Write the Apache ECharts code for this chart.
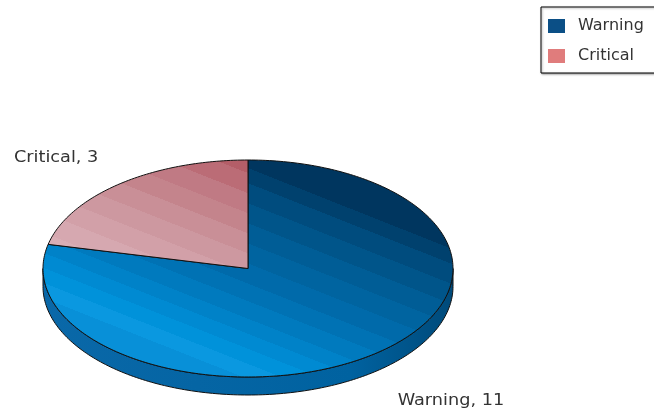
<!DOCTYPE html>
<html>
<head>
<meta charset="utf-8">
<script src="https://cdn.jsdelivr.net/npm/echarts@6/dist/echarts.min.js"></script>
<style>
html, body { margin: 0; padding: 0; background: #fff; }
#app { width: 654px; height: 410px; }
</style>
</head>
<body>
<div id="app"></div>
<script>
var categories = ['Warning', 'Critical'];
var counts = [11, 3];
var sliceColors = ['#0b4f86', '#e07c7c'];

// squashed 3d pie: centre, radii, wall height
var cx = 248, cy = 268.5, rx = 205, ry = 108.5, depth = 18;

var total = counts.reduce(function (a, b) { return a + b; }, 0);
// angles in degrees, counter-clockwise, first slice starts at 12 o'clock going clockwise
var spans = [];
var acc = 90;
counts.forEach(function (v) {
    var span = v / total * 360;
    spans.push([acc - span, acc]);
    acc -= span;
});

function ptOn(a, dy) {
    var r = a * Math.PI / 180;
    return [cx + rx * Math.cos(r), cy - ry * Math.sin(r) + (dy || 0)];
}

function arcPts(a0, a1, dy) {
    var pts = [];
    var n = Math.max(2, Math.ceil(Math.abs(a1 - a0)));
    for (var k = 0; k <= n; k++) {
        pts.push(ptOn(a0 + (a1 - a0) * k / n, dy));
    }
    return pts;
}

// hard stops so the gradient looks striped
function striped(edges, colors) {
    var stops = [];
    colors.forEach(function (c, i) {
        stops.push({ offset: edges[i], color: c });
        stops.push({ offset: edges[i + 1], color: c });
    });
    return new echarts.graphic.LinearGradient(cx + 43, cy - ry, cx - 43, cy + ry, stops, true);
}

var topFills = [
    striped([0, .10, .16, .24, .32, .40, .48, .56, .63, .70, .76, .82, .88, .94, 1],
        ['#00365f', '#00416e', '#004c7e', '#00558a', '#005d96', '#0064a0', '#006aaa',
         '#0072b4', '#007abe', '#0082c8', '#008ad2', '#0092da', '#0a98e0', '#0890d8']),
    striped([0, .12, .20, .28, .36, .44, .52, .60, .68, 1],
        ['#b45e68', '#bb6c76', '#c07a84', '#c4848c', '#c98f97', '#cd98a0', '#d2a0a8', '#d6a8b0', '#d9aeb5'])
];
var sideFill = new echarts.graphic.LinearGradient(cx - rx, 0, cx + rx, 0, [
    { offset: 0, color: '#0a68a8' },
    { offset: 0.75, color: '#0062a0' },
    { offset: 1, color: '#004a7a' }
], true);

function makeRender(i) {
    return function (params, api) {
        var a0 = spans[i][0], a1 = spans[i][1];
        var children = [];
        // front wall, only where the slice faces the viewer
        for (var k = -2; k <= 1; k++) {
            var lo = Math.max(a0, -180 + 360 * k), hi = Math.min(a1, 360 * k);
            if (lo < hi) {
                children.push({
                    type: 'polygon',
                    shape: { points: arcPts(lo, hi, 0).concat(arcPts(hi, lo, depth)) },
                    style: { fill: sideFill, stroke: '#111', lineWidth: 1 }
                });
            }
        }
        children.push({
            type: 'polygon',
            shape: { points: [[cx, cy]].concat(arcPts(a1, a0, 0)) },
            style: { fill: topFills[i], stroke: '#111', lineWidth: 1, lineJoin: 'round' }
        });
        var m = (a0 + a1) / 2 * Math.PI / 180;
        var lower = Math.sin(m) < 0;
        children.push({
            type: 'text',
            x: cx + (rx + 35) * Math.cos(m),
            y: cy - (ry + 33) * Math.sin(m) + (lower ? depth + 4 : 0),
            scaleX: 1.18,
            style: {
                text: categories[i] + ', ' + api.value(0),
                fill: '#333',
                fontSize: 15,
                fontFamily: 'DejaVu Sans',
                align: Math.cos(m) < 0 ? 'right' : 'left',
                verticalAlign: 'middle'
            }
        });
        return { type: 'group', children: children };
    };
}

var chart = echarts.init(document.getElementById('app'));
chart.setOption({
    backgroundColor: '#fff',
    animation: false,
    legend: {
        orient: 'vertical',
        left: 541,
        top: 7,
        data: categories,
        icon: 'rect',
        itemWidth: 17,
        itemHeight: 14,
        itemGap: 14,
        padding: [11, 40, 9, 7],
        borderColor: '#000',
        borderWidth: 1,
        backgroundColor: '#fff',
        shadowColor: 'rgba(0,0,0,0.35)',
        shadowBlur: 2,
        shadowOffsetX: 1,
        shadowOffsetY: 1,
        selectedMode: false,
        itemStyle: { borderWidth: 0 },
        textStyle: { color: '#333', fontSize: 16, fontFamily: 'DejaVu Sans', lineHeight: 14, padding: [0, 0, 0, 8] }
    },
    series: categories.map(function (name, i) {
        return {
            type: 'custom',
            name: name,
            coordinateSystem: 'none',
            silent: true,
            itemStyle: { color: sliceColors[i] },
            renderItem: makeRender(i),
            data: [counts[i]]
        };
    })
});
</script>
</body>
</html>
